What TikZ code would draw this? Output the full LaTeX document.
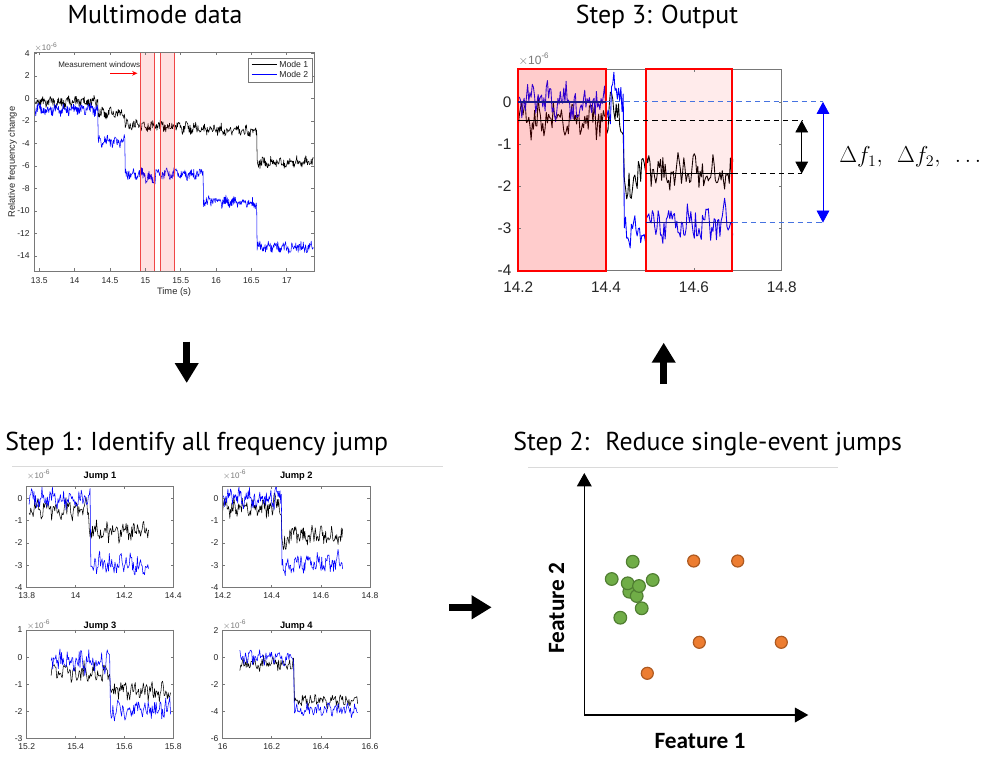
\documentclass[tikz,border=0pt]{standalone}
\usepackage{fontspec}
\setmainfont{PT Sans}
\newfontfamily\axfont{Liberation Sans}
\newfontfamily\califont{Carlito}
\usetikzlibrary{arrows.meta}
\definecolor{mblue}{RGB}{0,0,255}
\definecolor{axg}{RGB}{120,120,120}
\definecolor{tk}{RGB}{38,38,38}
\definecolor{gfill}{RGB}{112,173,71}
\definecolor{gdraw}{RGB}{80,126,50}
\definecolor{ofill}{RGB}{237,125,49}
\definecolor{odraw}{RGB}{174,90,33}
\definecolor{dblue}{RGB}{25,25,140}
\definecolor{lblue}{RGB}{70,115,225}
\definecolor{wred}{RGB}{240,70,70}
\definecolor{sepg}{RGB}{218,218,218}
\tikzset{
  title/.style={font=\fontsize{19.4}{22}\selectfont, inner sep=0pt},
  sig/.style={line width=0.4pt, line join=round},
  bigarrow/.style={line width=5pt, -{Triangle[width=17pt,length=15pt]}},
  tkl/.style={text=tk, inner sep=0pt},
  gdot/.style={circle, fill=gfill, draw=gdraw, line width=0.9pt, minimum size=9.5pt, inner sep=0pt},
  odot/.style={circle, fill=ofill, draw=odraw, line width=0.9pt, minimum size=9pt, inner sep=0pt},
  feat/.style={font=\califont\bfseries\fontsize{17.5}{20}\selectfont, inner sep=0pt},
  jt/.style={font=\axfont\bfseries\fontsize{7}{8}\selectfont, inner sep=0pt},
  expo/.style={font=\axfont\fontsize{6}{7}\selectfont, text=axg, inner sep=0pt},
  meanline/.style={line width=1.1pt},
  dashline/.style={line width=0.8pt, dash pattern=on 4pt off 3pt},
  dblarrow/.style={line width=0.6pt, {Triangle[width=9.5pt,length=9pt]}-{Triangle[width=9.5pt,length=9pt]}},
}
% axes frame: xmin xmax ymin ymax xticks yticks font xgap ygap
\newcommand\pframe[9]{%
  \draw[axg, line width=0.45pt] (#1,#3) rectangle (#2,#4);
  \foreach \t [count=\i] in {#5} {\draw[axg,line width=0.45pt] (\t,#3) -- ++(0,2pt) (\t,#4) -- ++(0,-2pt);
    \node[tkl, font={#7}, anchor=north, yshift=-#8] (xt\i) at (\t,#3) {\t};}
  \foreach \t [count=\i] in {#6} {\draw[axg,line width=0.45pt] (#1,\t) -- ++(2pt,0) (#2,\t) -- ++(-2pt,0);
    \node[tkl, font={#7}, anchor=east, xshift=-#9] (yt\i) at (#1,\t) {\t};}
}
% noise: origin, phase1, phase2
\newcommand\nz[3]{(0.36*rand+0.16*sin((\x-#1)*9000+#2)+0.1*sin((\x-#1)*8500*2+#3))}
\newcommand\jumpBlackB{plot[domain=14.2:14.69, samples=185] (\x,{-0.44-1.26*(\x>14.44)-0.4*(\x>14.44)*(\x<14.46)+0.3*(\x>14.405)*(\x<14.43)+\nz{14.2}{30}{100}})}
\newcommand\jumpBlueB{plot[domain=14.2:14.69, samples=185] (\x,{0-2.86*(\x>14.44)-0.3*(\x>14.45)*(\x<14.49)+0.45*(\x>14.41)*(\x<14.425)+\nz{14.2}{200}{10}})}
\begin{document}
\begin{tikzpicture}[x=0.75pt,y=-0.75pt]
\useasboundingbox (0,0) rectangle (1000,778);
\fill[white] (0,0) rectangle (1000,778);

% ---------------- titles
\node[title, anchor=base] (t0) at (155,23.3) {Multimode data};
\node[title, anchor=base] (t3) at (657,23.3) {Step 3: Output};
\node[title, anchor=base west] (t1) at (5,450) {Step 1: Identify all frequency jump};
\node[title, anchor=base west] (t2) at (513,450) {Step 2:~ Reduce single-event jumps};
\draw[sepg, line width=0.6pt] (12,466) -- (443,466);
\draw[sepg, line width=0.6pt] (528,467) -- (838,467);

% ---------------- big arrows
\coordinate (da) at (186.7,341.7); \coordinate (db) at (186.7,383);
\coordinate (ua) at (663.7,384); \coordinate (ub) at (663.7,342.7);
\coordinate (ra) at (449.3,607.3); \coordinate (rb) at (491.7,607.3);
\draw[bigarrow] (da) -- (db);
\draw[bigarrow] (ua) -- (ub);
\draw[bigarrow] (ra) -- (rb);

% ---------------- multimode data panel
\begin{scope}[shift={(34,271)},x=53.03pt,y=8.445pt,shift={(-13.425,15.33)}]
  \begin{scope}
    \clip (13.425,-15.33) rectangle (17.386,4.06);
    \pgfmathsetseed{11}
    \draw[sig, black] plot[domain=13.43:17.38, samples=600] (\x,{-0.3-1.0*(\x>14.33)-1.0*(\x>14.71)-0.35*(\x>14.71)*(min(\x,16.575)-14.71)-2.75*(\x>16.575)+0.42*rand+0.2*sin((\x-13.4)*3000+20)});
    \pgfmathsetseed{12}
    \draw[sig, mblue] plot[domain=13.43:17.38, samples=600] (\x,{-1.0-2.8*(\x>14.33)-2.9*(\x>14.71)-0.4*(\x>15.0)*(\x<15.15)-2.4*(\x>15.82)-0.3*(\x>15.82)*(min(\x,16.575)-15.82)-3.9*(\x>16.575)+0.42*rand+0.2*sin((\x-13.4)*3000+160)});
  \end{scope}
  \fill[red, opacity=0.12] (14.924,-15.33) rectangle (15.127,4.06);
  \fill[red, opacity=0.12] (15.207,-15.33) rectangle (15.41,4.06);
  \draw[wred, line width=0.5pt] (14.924,-15.33) -- (14.924,4.06) (15.127,-15.33) -- (15.127,4.06)
     (15.207,-15.33) -- (15.207,4.06) (15.41,-15.33) -- (15.41,4.06);
  \pframe{13.425}{17.386}{-15.33}{4.06}{13.5,14,14.5,15,15.5,16,16.5,17}{4,2,0,-2,-4,-6,-8,-10,-12,-14}{\axfont\fontsize{6.4}{7}\selectfont}{4.8pt}{3pt}
  \node[expo, anchor=base west] (e0) at (13.425,4.06) [yshift=1.5pt] {$\times$10\textsuperscript{-6}};
\end{scope}
\node[font=\axfont\fontsize{7}{8}\selectfont, text=tk, inner sep=0pt] (xl0) at (174,292) {Time (s)};
\node[font=\axfont\fontsize{7}{8}\selectfont, text=tk, inner sep=0pt, rotate=90] (yl0) at (12.5,162) {Relative frequency change};
\node[font=\axfont\fontsize{6}{7}\selectfont, text=tk, inner sep=0pt, anchor=west] (mw) at (58,64.3) {Measurement windows};
\coordinate (mwa) at (110,73.3); \coordinate (mwb) at (137.5,73.3);
\draw[red, line width=0.7pt, -{Stealth[length=4pt,width=3.5pt]}] (mwa) -- (mwb);
\node[draw=axg, fill=white, line width=0.45pt, minimum width=48pt, minimum height=17.5pt, inner sep=0pt, anchor=north west] (leg) at (247.7,58.3) {};
\draw[black, line width=0.5pt] (251.7,64.5) -- (276.7,64.5);
\draw[mblue, line width=0.5pt] (251.7,74.5) -- (276.7,74.5);
\node[font=\axfont\fontsize{6.5}{7}\selectfont, text=tk, inner sep=0pt, anchor=east] (m1) at (308.5,64.5) {Mode 1};
\node[font=\axfont\fontsize{6.5}{7}\selectfont, text=tk, inner sep=0pt, anchor=east] (m2) at (308.5,74.5) {Mode 2};

% ---------------- Step 3 output panel
\begin{scope}[shift={(518.3,270.7)},x=329.25pt,y=31.65pt,shift={(-14.2,4)}]
  \begin{scope}
    \clip (14.2,-4) rectangle (14.8,0.77);
    \pgfmathsetseed{21}
    \draw[line width=0.65pt, line join=round, black] \jumpBlackB;
    \pgfmathsetseed{22}
    \draw[line width=0.65pt, line join=round, mblue] \jumpBlueB;
  \end{scope}
  \fill[red, opacity=0.2] (14.2,-4) rectangle (14.399,0.77);
  \fill[red, opacity=0.08] (14.49,-4) rectangle (14.6875,0.77);
  \pframe{14.2}{14.8}{-4}{0.77}{14.2,14.4,14.6,14.8}{0,-1,-2,-3,-4}{\axfont\fontsize{11.5}{13}\selectfont}{8.2pt}{5pt}
  \draw[red, line width=1.5pt] (14.2,-4) rectangle (14.399,0.77);
  \draw[red, line width=1.5pt] (14.49,-4) rectangle (14.6875,0.77);
  \node[font=\axfont\fontsize{9}{10}\selectfont, text=axg, inner sep=0pt, anchor=base west] (e3) at (14.2,0.77) [yshift=4pt] {$\times$10\textsuperscript{-6}};
  % means
  \coordinate (bu1) at (14.2,0); \coordinate (bu2) at (14.399,0); \coordinate (bu3) at (14.894,0);
  \coordinate (bk1) at (14.2,-0.44); \coordinate (bk2) at (14.399,-0.44); \coordinate (bk3) at (14.8456,-0.44);
  \coordinate (ck1) at (14.49,-1.7); \coordinate (ck2) at (14.6875,-1.7); \coordinate (ck3) at (14.8456,-1.7);
  \coordinate (cu1) at (14.49,-2.86); \coordinate (cu2) at (14.6875,-2.86); \coordinate (cu3) at (14.894,-2.86);
  \draw[dblue, meanline] (bu1) -- (bu2);
  \draw[black, meanline] (bk1) -- (bk2);
  \draw[black, meanline] (ck1) -- (ck2);
  \draw[dblue, meanline] (cu1) -- (cu2);
  \draw[lblue, dashline] (bu2) -- (bu3);
  \draw[lblue, dashline] (cu2) -- (cu3);
  \draw[black, dashline] (bk2) -- (bk3);
  \draw[black, dashline] (ck2) -- (ck3);
  \draw[black, dblarrow] (bk3) -- (ck3);
  \draw[mblue, dblarrow] (bu3) -- (cu3);
\end{scope}
\node[anchor=west, inner sep=0pt, font=\fontsize{18.5}{21}\selectfont] (df) at (839,157) {$\Delta f_1,\;\, \Delta f_2,\;\, \ldots$};

% ---------------- Step 1 jump panels
% Jump 1
\begin{scope}[shift={(26.7,587.7)},x=183.25pt,y=16.76pt,shift={(-13.8,4)}]
  \begin{scope}
    \clip (13.8,-4) rectangle (14.4,0.52);
    \pgfmathsetseed{31}
    \draw[sig, black] plot[domain=13.81:14.3, samples=150] (\x,{-0.5-1.0*(\x>14.055)+\nz{13.8}{70}{300}});
    \pgfmathsetseed{32}
    \draw[sig, mblue] plot[domain=13.81:14.3, samples=150] (\x,{0.0-2.95*(\x>14.06)+\nz{13.8}{250}{40}});
  \end{scope}
  \pframe{13.8}{14.4}{-4}{0.52}{13.8,14,14.2,14.4}{0,-1,-2,-3,-4}{\axfont\fontsize{6.4}{7}\selectfont}{3.8pt}{3pt}
  \node[jt, anchor=base] (j1) at (14.1,0.52) [yshift=6.3pt] {Jump 1};
  \node[expo, anchor=base west] (e1) at (13.8,0.52) [yshift=6.3pt] {$\times$10\textsuperscript{-6}};
\end{scope}
% Jump 2
\begin{scope}[shift={(222.7,587.7)},x=184.1pt,y=16.76pt,shift={(-14.2,4)}]
  \begin{scope}
    \clip (14.2,-4) rectangle (14.8,0.52);
    \pgfmathsetseed{21}
    \draw[sig, black] \jumpBlackB;
    \pgfmathsetseed{22}
    \draw[sig, mblue] \jumpBlueB;
  \end{scope}
  \pframe{14.2}{14.8}{-4}{0.52}{14.2,14.4,14.6,14.8}{0,-1,-2,-3,-4}{\axfont\fontsize{6.4}{7}\selectfont}{3.8pt}{3pt}
  \node[jt, anchor=base] (j2) at (14.5,0.52) [yshift=6.3pt] {Jump 2};
  \node[expo, anchor=base west] (e2) at (14.2,0.52) [yshift=6.3pt] {$\times$10\textsuperscript{-6}};
\end{scope}
% Jump 3
\begin{scope}[shift={(26.7,738.3)},x=183.25pt,y=20.31pt,shift={(-15.2,3)}]
  \begin{scope}
    \clip (15.2,-3) rectangle (15.8,1);
    \pgfmathsetseed{41}
    \draw[sig, black] plot[domain=15.3:15.79, samples=150] (\x,{-0.6-0.65*(\x>15.54)+0.8*\nz{15.2}{120}{60}});
    \pgfmathsetseed{42}
    \draw[sig, mblue] plot[domain=15.3:15.79, samples=150] (\x,{-0.15-1.75*(\x>15.54)+0.9*\nz{15.2}{300}{200}});
  \end{scope}
  \pframe{15.2}{15.8}{-3}{1}{15.2,15.4,15.6,15.8}{1,0,-1,-2,-3}{\axfont\fontsize{6.4}{7}\selectfont}{3.8pt}{3pt}
  \node[jt, anchor=base] (j3) at (15.5,1) [yshift=1.3pt] {Jump 3};
  \node[expo, anchor=base west] (e3b) at (15.2,1) [yshift=1.3pt] {$\times$10\textsuperscript{-6}};
\end{scope}
% Jump 4
\begin{scope}[shift={(222.7,738.3)},x=184.1pt,y=10.15pt,shift={(-16,6)}]
  \begin{scope}
    \clip (16,-6) rectangle (16.6,2);
    \pgfmathsetseed{51}
    \draw[sig, black] plot[domain=16.07:16.55, samples=150] (\x,{-0.5-2.7*(\x>16.29)+1.1*\nz{16}{10}{150}});
    \pgfmathsetseed{52}
    \draw[sig, mblue] plot[domain=16.07:16.55, samples=150] (\x,{0.0-3.9*(\x>16.29)+1.1*\nz{16}{190}{330}});
  \end{scope}
  \pframe{16}{16.6}{-6}{2}{16,16.2,16.4,16.6}{2,0,-2,-4,-6}{\axfont\fontsize{6.4}{7}\selectfont}{3.8pt}{3pt}
  \node[jt, anchor=base] (j4) at (16.3,2) [yshift=1.3pt] {Jump 4};
  \node[expo, anchor=base west] (e4) at (16,2) [yshift=1.3pt] {$\times$10\textsuperscript{-6}};
\end{scope}

% ---------------- Step 2 scatter
\coordinate (o) at (584.3,715); \coordinate (yend) at (584.3,473); \coordinate (xend) at (808.3,715);
\draw[black, line width=1pt, -{Triangle[width=11pt,length=10pt]}] (o) -- (yend);
\draw[black, line width=1pt, -{Triangle[width=11pt,length=10pt]}] (o) -- (xend);
\node[feat] (f1) at (700,741) {Feature 1};
\node[feat, rotate=90] (f2) at (556.5,608) {Feature 2};
\node[gdot] (g1) at (632.7,561.7) {};
\node[gdot] (g2) at (611.7,579) {};
\node[gdot] (g3) at (652.7,580) {};
\node[gdot] (g4) at (629.3,591.7) {};
\node[gdot] (g5) at (636.7,596) {};
\node[gdot] (g6) at (627.7,583.3) {};
\node[gdot] (g7) at (639,586) {};
\node[gdot] (g8) at (641.7,608.3) {};
\node[gdot] (g9) at (620.3,617.7) {};
\node[odot] (o1) at (693.7,561) {};
\node[odot] (o2) at (737.7,561) {};
\node[odot] (o3) at (699.3,642.3) {};
\node[odot] (o4) at (781.3,642.3) {};
\node[odot] (o5) at (647.3,673.3) {};
\end{tikzpicture}
\end{document}
